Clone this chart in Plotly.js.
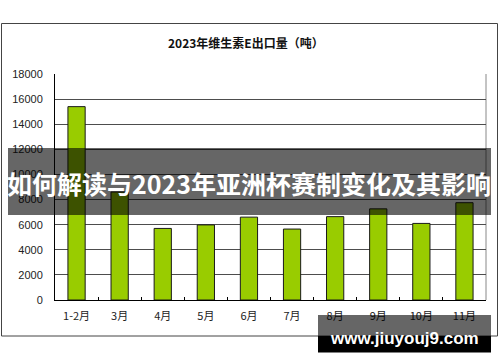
<!DOCTYPE html>
<html>
<head>
<meta charset="utf-8">
<script src="https://cdn.plot.ly/plotly-3.0.1.min.js"></script>
<style>html,body{margin:0;padding:0;background:#fff;}#chart{width:500px;height:362px;}</style>
</head>
<body>
<div id="chart"></div>
<script>
const categories = ["1-2月","3月","4月","5月","6月","7月","8月","9月","10月","11月"];
const exportTons = [15400, 8600, 5700, 5980, 6600, 5650, 6640, 7260, 6100, 7750];
const yTicks = [0,2000,4000,6000,8000,10000,12000,14000,16000,18000];
const chartTitle = "2023年维生素E出口量（吨）";
const bannerText = "如何解读与2023年亚洲杯赛制变化及其影响";
const watermarkText = "www.jiuyouj9.com";

// plot area in pixels
const L = 55, R = 486, T = 74, B = 300;
const W = R - L, H = B - T;
const px = v => (v - L) / W;
const py = v => (B - v) / H;

const trace = {
  type: "bar",
  x: categories,
  y: exportTons,
  marker: {color: "#99cc00", line: {color: "#1a1a1a", width: 1}},
  hoverinfo: "none"
};

const layout = {
  width: 500, height: 362,
  margin: {l: L, r: 500 - R, t: T, b: 362 - B, pad: 0},
  paper_bgcolor: "#ffffff",
  plot_bgcolor: "#ffffff",
  showlegend: false,
  bargap: 0.6,
  xaxis: {
    type: "category",
    showline: true, linecolor: "#000", linewidth: 1,
    showgrid: false,
    ticks: "inside", ticklen: 3, tickcolor: "#000", tickson: "boundaries",
    ticklabelstandoff: 6,
    tickfont: {family: "Noto Sans CJK SC", size: 11, color: "#222"},
    fixedrange: true
  },
  yaxis: {
    range: [0, 18000],
    tickvals: yTicks,
    ticktext: yTicks.map(String),
    showline: true, linecolor: "#000", linewidth: 1,
    showgrid: true, gridcolor: "#4d4d4d", gridwidth: 1,
    zeroline: false,
    ticks: "",
    ticklabelstandoff: 9,
    tickfont: {family: "Liberation Sans", size: 11, color: "#222"},
    fixedrange: true
  },
  shapes: [
    // outer chart frame
    {type: "rect", xref: "paper", yref: "paper", layer: "below",
     x0: px(1.5), x1: px(497.5), y0: py(336), y1: py(23.5),
     line: {color: "#444", width: 1}, fillcolor: "rgba(0,0,0,0)"},
    // plot area right border
    {type: "line", xref: "paper", yref: "paper", layer: "below",
     x0: 1, x1: 1, y0: 0, y1: 1, line: {color: "#888", width: 1}},
    // banner band
    {type: "rect", xref: "paper", yref: "paper", layer: "above",
     x0: px(8), x1: px(491), y0: py(215), y1: py(148),
     line: {width: 0}, fillcolor: "rgba(0,0,0,0.6)"},
    // watermark boxes
    {type: "rect", xref: "paper", yref: "paper", layer: "above",
     x0: px(318), x1: px(491), y0: py(336), y1: py(315),
     line: {width: 0}, fillcolor: "rgba(0,0,0,0.6)"},
    {type: "rect", xref: "paper", yref: "paper", layer: "above",
     x0: px(318), x1: px(491), y0: py(352.5), y1: py(336),
     line: {width: 0}, fillcolor: "#000"}
  ],
  annotations: [
    {text: "<b>" + chartTitle + "</b>", xref: "paper", yref: "paper",
     x: px(246), y: py(42), xanchor: "center", yanchor: "middle", showarrow: false,
     font: {family: "Noto Sans CJK SC", size: 12, color: "#111"}},
    {text: "<b>" + bannerText + "</b>", xref: "paper", yref: "paper",
     x: px(249), y: py(183), xanchor: "center", yanchor: "middle", showarrow: false,
     font: {family: "Noto Sans CJK SC", size: 25, color: "#fff"}},
    {text: "<b>" + watermarkText + "</b>", xref: "paper", yref: "paper",
     x: px(404), y: py(338), xanchor: "center", yanchor: "middle", showarrow: false,
     font: {family: "Liberation Sans", size: 17, color: "#fff"}}
  ]
};

Plotly.newPlot("chart", [trace], layout, {staticPlot: true, displayModeBar: false});
</script>
</body>
</html>
